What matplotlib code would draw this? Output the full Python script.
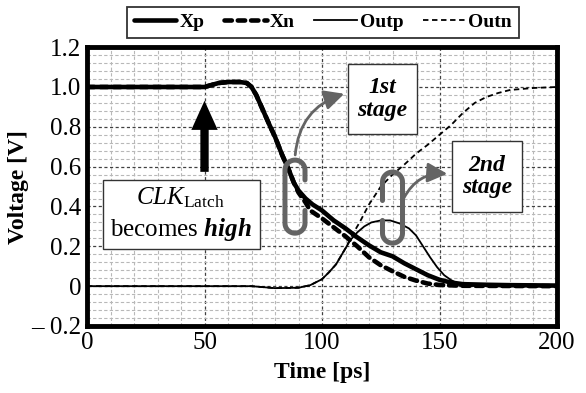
import numpy as np
import matplotlib
matplotlib.use("Agg")
import matplotlib.pyplot as plt
from matplotlib.patches import Rectangle, FancyArrowPatch
from matplotlib.path import Path
from matplotlib.patches import PathPatch
from matplotlib.ticker import MultipleLocator

plt.rcParams['font.family'] = ['Liberation Serif', 'DejaVu Serif']
plt.rcParams['mathtext.fontset'] = 'custom'
plt.rcParams['mathtext.rm'] = 'Liberation Serif'
plt.rcParams['mathtext.it'] = 'Liberation Serif:italic'
plt.rcParams['mathtext.bf'] = 'Liberation Serif:bold'
plt.rcParams['mathtext.bfit'] = 'Liberation Serif:bold:italic'

# -------------------------
# Transient waveforms (time in ps, voltage in V)
# -------------------------
t_xp = [0, 45, 50, 53, 56, 60, 65, 68, 70, 72, 75, 78, 80, 83, 86, 88, 90, 93, 96,
        100, 105, 110, 115, 120, 125, 130, 135, 140, 145, 150, 155, 160, 170, 180, 200]
xp = [1.0, 1.0, 1.0, 1.01, 1.02, 1.025, 1.025, 1.02, 1.0, 0.96, 0.88, 0.80, 0.75, 0.66,
      0.58, 0.52, 0.48, 0.44, 0.41, 0.38, 0.33, 0.29, 0.245, 0.205, 0.17, 0.15, 0.115,
      0.085, 0.055, 0.032, 0.018, 0.01, 0.007, 0.005, 0.003]

t_xn = [0, 45, 50, 53, 56, 60, 65, 68, 70, 72, 75, 78, 80, 83, 86, 88, 90, 93, 95,
        100, 105, 110, 115, 120, 125, 130, 135, 140, 145, 150, 160, 200]
xn = [1.0, 1.0, 1.0, 1.01, 1.02, 1.025, 1.025, 1.02, 1.0, 0.96, 0.88, 0.80, 0.75, 0.66,
      0.58, 0.52, 0.47, 0.42, 0.38, 0.34, 0.295, 0.25, 0.2, 0.145, 0.105, 0.075, 0.047,
      0.028, 0.013, 0.006, 0.002, 0.0]

t_outp = [0, 70, 75, 80, 90, 95, 100, 103, 106, 109, 112, 115, 118, 121, 125, 129, 133,
          137, 140, 143, 146, 149, 152, 155, 158, 162, 170, 200]
outp = [0.0, 0.0, -0.005, -0.01, -0.008, 0.005, 0.035, 0.07, 0.11, 0.17, 0.23, 0.27,
        0.30, 0.32, 0.33, 0.33, 0.315, 0.29, 0.255, 0.2, 0.145, 0.095, 0.055, 0.03,
        0.012, 0.004, 0.0, 0.0]

t_outn = [0, 70, 75, 80, 90, 95, 100, 103, 106, 108, 110, 113, 116, 120, 125, 130, 135,
          140, 145, 150, 155, 160, 165, 170, 175, 180, 190, 200]
outn = [0.0, 0.0, -0.005, -0.01, -0.008, 0.005, 0.035, 0.07, 0.11, 0.15, 0.19, 0.26,
        0.32, 0.41, 0.5, 0.56, 0.61, 0.665, 0.71, 0.76, 0.81, 0.87, 0.92, 0.95, 0.97,
        0.985, 0.995, 1.0]

fig = plt.figure(figsize=(5.86, 3.93), dpi=100)
ax = fig.add_axes([0.1485, 0.1705, 0.802, 0.7095])

# grid
ax.set_xlim(0, 200)
ax.set_ylim(-0.2, 1.2)
ax.xaxis.set_major_locator(MultipleLocator(50))
ax.xaxis.set_minor_locator(MultipleLocator(10))
ax.yaxis.set_major_locator(MultipleLocator(0.2))
ax.yaxis.set_minor_locator(MultipleLocator(0.04))
ax.grid(which='minor', color='#b8b8b8', linestyle=(0, (3, 2)), linewidth=0.8)
ax.grid(which='major', color='#404040', linestyle=(0, (2.5, 2)), linewidth=0.9)
ax.set_axisbelow(True)
ax.tick_params(which='both', length=0, labelsize=18, pad=4)
ax.set_yticks([-0.2, 0, 0.2, 0.4, 0.6, 0.8, 1.0, 1.2])
ax.set_yticklabels(['\u2013 0.2', '0', '0.2', '0.4', '0.6', '0.8', '1.0', '1.2'])
for s in ax.spines.values():
    s.set_linewidth(3.5)

# curves
l_xp, = ax.plot(t_xp, xp, color='black', lw=3.3, solid_capstyle='round', label='Xp')
l_xn, = ax.plot(t_xn, xn, color='black', lw=3.3, dashes=(1.6, 1.3),
                dash_capstyle='round', label='Xn')
l_op, = ax.plot(t_outp, outp, color='black', lw=1.3, label='Outp')
l_on, = ax.plot(t_outn, outn, color='black', lw=1.3, dashes=(3, 2), label='Outn')

ax.set_xlabel('Time [ps]', fontsize=17, fontweight='bold', labelpad=6)
ax.set_ylabel('Voltage [V]', fontsize=17, fontweight='bold', labelpad=2)

leg = fig.legend(handles=[l_xp, l_xn, l_op, l_on], loc='center', ncol=4,
                 bbox_to_anchor=(0.551, 0.943), frameon=True, fancybox=False,
                 edgecolor='black', prop={'weight': 'bold', 'size': 14},
                 handlelength=2.2, columnspacing=1.0, handletextpad=0.15,
                 borderpad=0.35)
leg.get_frame().set_linewidth(1.3)

# CLK_Latch annotation
ax.add_patch(Rectangle((6.8, 0.186), 66.8, 0.347, facecolor='white',
                       edgecolor='#333333', lw=1.0, zorder=5))
ax.text(39.8, 0.445, r'$\mathit{CLK}_{\mathrm{Latch}}$', fontsize=18,
        ha='center', va='center', zorder=6)
ax.text(39.8, 0.285, r'becomes $\mathbfit{high}$', fontsize=18,
        ha='center', va='center', zorder=6)
arr = FancyArrowPatch((50, 0.56), (50, 0.945),
                      arrowstyle='simple,head_length=1.05,head_width=0.95,tail_width=0.3',
                      mutation_scale=20, color='black', lw=0, zorder=6)
ax.add_patch(arr)

# stage boxes
ax.add_patch(Rectangle((111, 0.764), 29.4, 0.352, facecolor='white',
                       edgecolor='#333333', lw=1.0, zorder=5))
ax.text(125.7, 0.94, '1st\nstage', fontsize=17, fontweight='bold', style='italic',
        ha='center', va='center', linespacing=1.1, zorder=6)
ax.add_patch(Rectangle((155.3, 0.372), 29.8, 0.357, facecolor='white',
                       edgecolor='#333333', lw=1.0, zorder=5))
ax.text(170.2, 0.55, '2nd\nstage', fontsize=17, fontweight='bold', style='italic',
        ha='center', va='center', linespacing=1.1, zorder=6)

gray = '#646464'


def clip_path(tc, v_top, v_bot, gap_hi, gap_lo, open_side):
    # rounded clip outline with a gap on one side
    rx, ry = 4.26, 0.05
    s = 1 if open_side == 'right' else -1
    pts = [(tc + s * rx, gap_hi), (tc + s * rx, v_top - ry)]
    for a in np.linspace(0, np.pi, 20):
        pts.append((tc + s * rx * np.cos(a), v_top - ry + ry * np.sin(a)))
    pts.append((tc - s * rx, v_bot + ry))
    for a in np.linspace(np.pi, 2 * np.pi, 20):
        pts.append((tc + s * rx * np.cos(a), v_bot + ry + ry * np.sin(a)))
    pts.append((tc + s * rx, gap_lo))
    return PathPatch(Path(pts), facecolor='none', edgecolor=gray, lw=3.6,
                     capstyle='round', zorder=7)


ax.add_patch(clip_path(88.5, 0.633, 0.266, 0.533, 0.38, 'right'))
ax.add_patch(clip_path(130.0, 0.573, 0.216, 0.43, 0.33, 'left'))

ax.add_patch(FancyArrowPatch((88.5, 0.645), (110.6, 0.97),
                             connectionstyle='arc3,rad=-0.35',
                             arrowstyle='-|>,head_length=0.6,head_width=0.3',
                             mutation_scale=20, color=gray, lw=2.0, zorder=7))
ax.add_patch(FancyArrowPatch((134.3, 0.43), (154.5, 0.563),
                             connectionstyle='arc3,rad=-0.35',
                             arrowstyle='-|>,head_length=0.6,head_width=0.3',
                             mutation_scale=20, color=gray, lw=2.0, zorder=7))

fig.savefig('out.png', dpi=100)
